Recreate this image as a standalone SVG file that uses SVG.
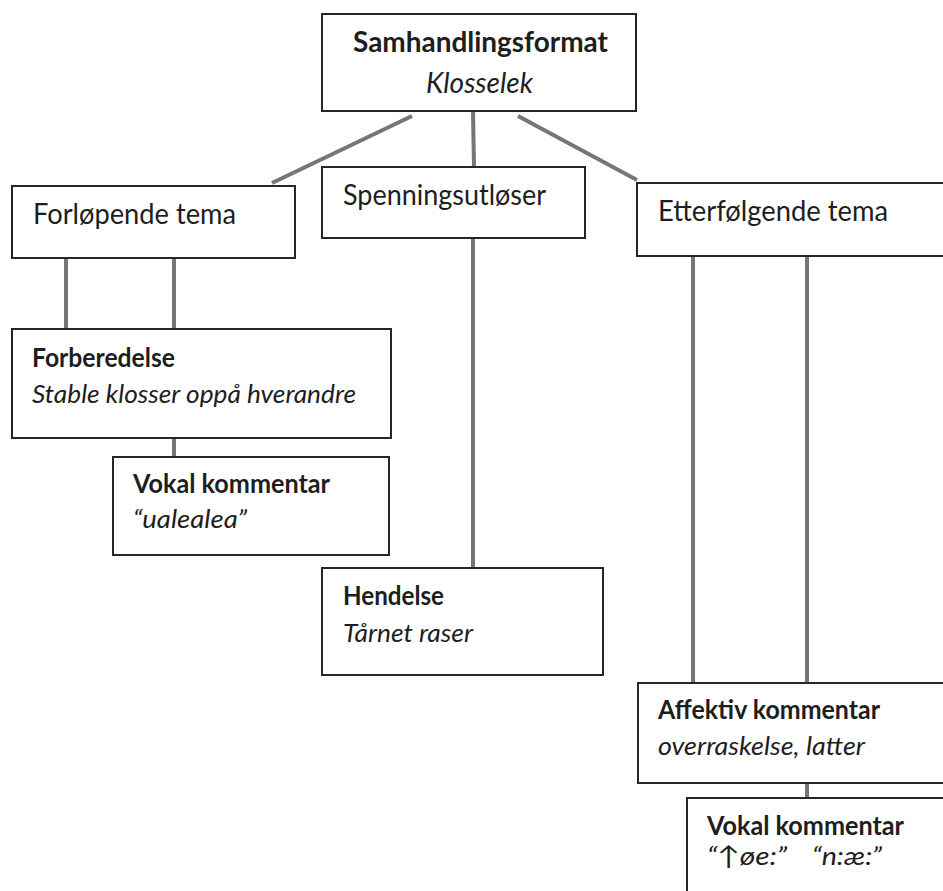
<svg xmlns="http://www.w3.org/2000/svg" width="943" height="891" viewBox="0 0 943 891">
<style>
.box{fill:#fff;stroke:#262626;stroke-width:2}
.ln{stroke:#767676;stroke-width:4;fill:none}
text{font-family:Lato,"Open Sans","DejaVu Sans",sans-serif;fill:#1e1e1e}
.h{font-size:29px}
.b{font-size:26px;font-weight:bold}
.bt{font-size:29px;font-weight:bold}
.i{font-size:26px;font-style:italic}
.it{font-size:29px;font-style:italic}
</style>
<rect width="943" height="891" fill="#fff"/>
<g id="connectors">
<line class="ln" x1="412" y1="116" x2="272" y2="183"/>
<line class="ln" x1="473" y1="111" x2="474" y2="167"/>
<line class="ln" x1="518" y1="116" x2="637" y2="180"/>
<line class="ln" x1="66" y1="258" x2="66" y2="329"/>
<line class="ln" x1="174" y1="258" x2="174" y2="329"/>
<line class="ln" x1="174" y1="438" x2="174" y2="457"/>
<line class="ln" x1="473" y1="238" x2="473" y2="568"/>
<line class="ln" x1="693" y1="256" x2="693" y2="683"/>
<line class="ln" x1="807" y1="256" x2="807" y2="683"/>
<line class="ln" x1="807" y1="783" x2="807" y2="798"/>
</g>
<g id="samhandlingsformat">
<rect class="box" x="322" y="14" width="314" height="97"/>
<text class="bt" x="353" y="52" textLength="255" lengthAdjust="spacingAndGlyphs">Samhandlingsformat</text>
<text class="it" x="426" y="93" textLength="107" lengthAdjust="spacingAndGlyphs">Klosselek</text>
</g>
<g id="forlopende">
<rect class="box" x="12" y="186" width="283" height="72"/>
<text class="h" x="33" y="224" textLength="203" lengthAdjust="spacingAndGlyphs">Forløpende tema</text>
</g>
<g id="spenning">
<rect class="box" x="322" y="167" width="263" height="71"/>
<text class="h" x="343" y="205" textLength="203" lengthAdjust="spacingAndGlyphs">Spenningsutløser</text>
</g>
<g id="etterfolgende">
<rect class="box" x="637" y="183" width="320" height="73"/>
<text class="h" x="658" y="221" textLength="230" lengthAdjust="spacingAndGlyphs">Etterfølgende tema</text>
</g>
<g id="forberedelse">
<rect class="box" x="12" y="329" width="379" height="109"/>
<text class="b" x="32" y="367" textLength="143" lengthAdjust="spacingAndGlyphs">Forberedelse</text>
<text class="i" x="32" y="403" textLength="324" lengthAdjust="spacingAndGlyphs">Stable klosser oppå hverandre</text>
</g>
<g id="vokal1">
<rect class="box" x="113" y="457" width="276" height="98"/>
<text class="b" x="133" y="493" textLength="197" lengthAdjust="spacingAndGlyphs">Vokal kommentar</text>
<text class="i" x="133" y="528" textLength="114" lengthAdjust="spacingAndGlyphs">“ualealea”</text>
</g>
<g id="hendelse">
<rect class="box" x="322" y="568" width="281" height="107"/>
<text class="b" x="343" y="605" textLength="101" lengthAdjust="spacingAndGlyphs">Hendelse</text>
<text class="i" x="343" y="642" textLength="130" lengthAdjust="spacingAndGlyphs">Tårnet raser</text>
</g>
<g id="affektiv">
<rect class="box" x="638" y="683" width="320" height="100"/>
<text class="b" x="658" y="719" textLength="222" lengthAdjust="spacingAndGlyphs">Affektiv kommentar</text>
<text class="i" x="658" y="755" textLength="207" lengthAdjust="spacingAndGlyphs">overraskelse, latter</text>
</g>
<g id="vokal2">
<rect class="box" x="687" y="798" width="270" height="110"/>
<text class="b" x="707" y="835" textLength="197" lengthAdjust="spacingAndGlyphs">Vokal kommentar</text>
<text class="i" x="707" y="865" textLength="80" lengthAdjust="spacingAndGlyphs">“↑øe:”</text>
<text class="i" x="812" y="865" textLength="70" lengthAdjust="spacingAndGlyphs">“n:æ:”</text>
</g>
</svg>
